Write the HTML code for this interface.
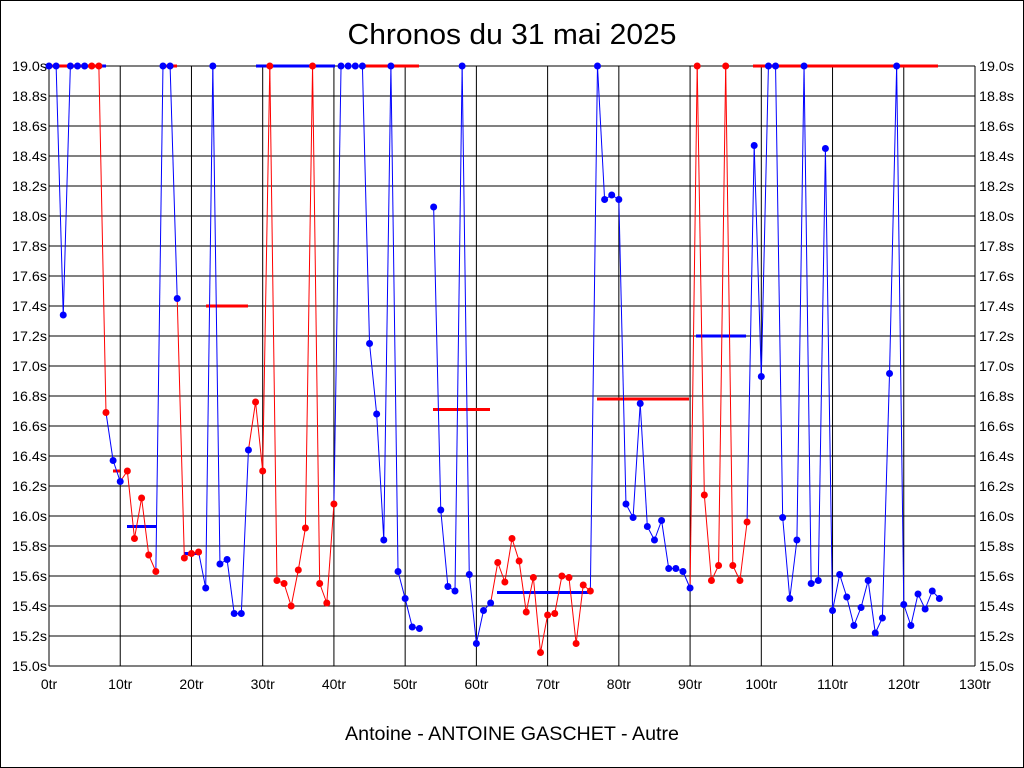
<!DOCTYPE html>
<html><head><meta charset="utf-8"><style>
html,body{margin:0;padding:0;background:#fff}
svg{display:block}
text{font-family:"Liberation Sans",sans-serif}
</style></head><body>
<svg id="s" width="1024" height="768" xmlns="http://www.w3.org/2000/svg">
<rect x="0.5" y="0.5" width="1023" height="767" fill="#fff" stroke="#000"/>
<text x="512" y="44" font-size="29" text-anchor="middle" textLength="329" lengthAdjust="spacingAndGlyphs">Chronos du 31 mai 2025</text>
<text x="512" y="740" font-size="19" text-anchor="middle" textLength="334" lengthAdjust="spacingAndGlyphs">Antoine - ANTOINE GASCHET - Autre</text>
<g id="g"></g>
</svg>
<script>
var g=document.getElementById('g'),h='';
function X(i){return 49+i*926/130;}
function Y(v){return 66+(19-v)*150;}
for(var k=0;k<=20;k++){var y=66+k*30,v=(19-k*0.2).toFixed(1);
h+='<line x1="49" y1="'+y+'" x2="975" y2="'+y+'" stroke="#000"/>';
h+='<text x="47" y="'+(y+5)+'" font-size="14" text-anchor="end" textLength="35" lengthAdjust="spacingAndGlyphs">'+v+'s</text>';
h+='<text x="979" y="'+(y+5)+'" font-size="14" textLength="35" lengthAdjust="spacingAndGlyphs">'+v+'s</text>';}
for(var k=0;k<=13;k++){var x=X(k*10);
h+='<line x1="'+x+'" y1="66" x2="'+x+'" y2="666" stroke="#000"/>';
h+='<text x="'+x+'" y="689" font-size="14" text-anchor="middle">'+(k*10)+'tr</text>';}
var B='#0000ff',R='#ff0000';
var d=[[0,19,B],[1,19,B],[2,17.34,B],[3,19,B],[4,19,B],[5,19,B],[6,19,R],[7,19,R],[8,16.69,R],[9,16.37,B],[10,16.23,B],[11,16.30,R],[12,15.85,R],[13,16.12,R],[14,15.74,R],[15,15.63,R],[16,19,B],[17,19,B],[18,17.45,B],[19,15.72,R],[20,15.75,R],[21,15.76,R],[22,15.52,B],[23,19,B],[24,15.68,B],[25,15.71,B],[26,15.35,B],[27,15.35,B],[28,16.44,B],[29,16.76,R],[30,16.30,R],[31,19,R],[32,15.57,R],[33,15.55,R],[34,15.40,R],[35,15.64,R],[36,15.92,R],[37,19,R],[38,15.55,R],[39,15.42,R],[40,16.08,R],[41,19,B],[42,19,B],[43,19,B],[44,19,B],[45,17.15,B],[46,16.68,B],[47,15.84,B],[48,19,B],[49,15.63,B],[50,15.45,B],[51,15.26,B],[52,15.25,B],null,[54,18.06,B],[55,16.04,B],[56,15.53,B],[57,15.50,B],[58,19,B],[59,15.61,B],[60,15.15,B],[61,15.37,B],[62,15.42,B],[63,15.69,R],[64,15.56,R],[65,15.85,R],[66,15.70,R],[67,15.36,R],[68,15.59,R],[69,15.09,R],[70,15.34,R],[71,15.35,R],[72,15.60,R],[73,15.59,R],[74,15.15,R],[75,15.54,R],[76,15.50,R],[77,19,B],[78,18.11,B],[79,18.14,B],[80,18.11,B],[81,16.08,B],[82,15.99,B],[83,16.75,B],[84,15.93,B],[85,15.84,B],[86,15.97,B],[87,15.65,B],[88,15.65,B],[89,15.63,B],[90,15.52,B],[91,19,R],[92,16.14,R],[93,15.57,R],[94,15.67,R],[95,19,R],[96,15.67,R],[97,15.57,R],[98,15.96,R],[99,18.47,B],[100,16.93,B],[101,19,B],[102,19,B],[103,15.99,B],[104,15.45,B],[105,15.84,B],[106,19,B],[107,15.55,B],[108,15.57,B],[109,18.45,B],[110,15.37,B],[111,15.61,B],[112,15.46,B],[113,15.27,B],[114,15.39,B],[115,15.57,B],[116,15.22,B],[117,15.32,B],[118,16.95,B],[119,19,B],[120,15.41,B],[121,15.27,B],[122,15.48,B],[123,15.38,B],[124,15.50,B],[125,15.45,B]];
var av=[[49,99,19,R],[99,106,19,B],[163,177,19,R],[256,335,19,B],[362,419,19,R],[753,938,19,R],[113,120,16.30,R],[127,156,15.93,B],[206,248,17.40,R],[184,198,15.75,B],[433,490,16.71,R],[497,590,15.49,B],[597,689,16.78,R],[696,746,17.20,B]];
av.forEach(function(a){h+='<line x1="'+a[0]+'" y1="'+Y(a[2])+'" x2="'+a[1]+'" y2="'+Y(a[2])+'" stroke="'+a[3]+'" stroke-width="3"/>';});
for(var i=1;i<d.length;i++){var p=d[i-1],q=d[i];if(!p||!q)continue;
h+='<line x1="'+X(p[0])+'" y1="'+Y(p[1])+'" x2="'+X(q[0])+'" y2="'+Y(q[1])+'" stroke="'+q[2]+'" stroke-width="1"/>';}
d.forEach(function(p){if(p)h+='<circle cx="'+X(p[0])+'" cy="'+Y(p[1])+'" r="3.5" fill="'+p[2]+'"/>';});
g.innerHTML=h;
</script>
</body></html>
